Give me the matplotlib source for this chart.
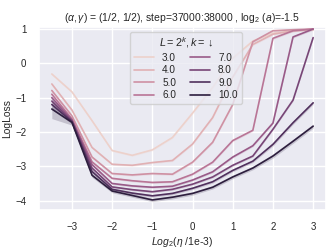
import numpy as np
import matplotlib
matplotlib.use("Agg")
import matplotlib.pyplot as plt
import seaborn as sns

# log2 of learning rate / 1e-3
log_lr = [-3.5, -3, -2.5, -2, -1.5, -1, -0.5, 0, 0.5, 1, 1.5, 2, 2.5, 3]
ks = [3.0, 4.0, 5.0, 6.0, 7.0, 8.0, 9.0, 10.0]

loss_k3 = [-0.31, -0.83, -1.67, -2.54, -2.68, -2.52, -2.16, -1.45, -0.70, 0.15, 0.65, 0.88, 0.95, 0.98]
loss_k4 = [-0.60, -1.36, -2.45, -2.94, -2.97, -2.89, -2.83, -2.35, -1.58, -0.40, 0.55, 0.85, 0.95, 0.99]
loss_k5 = [-0.79, -1.53, -2.73, -3.21, -3.25, -3.21, -3.23, -2.88, -2.30, -1.20, 0.63, 0.95, 0.98, 1.00]
loss_k6 = [-0.90, -1.62, -2.87, -3.35, -3.42, -3.47, -3.45, -3.23, -2.88, -2.25, -1.95, 0.73, 0.95, 1.00]
loss_k7 = [-1.00, -1.65, -2.95, -3.50, -3.57, -3.61, -3.58, -3.40, -3.16, -2.73, -2.40, -1.74, 0.77, 1.00]
loss_k8 = [-1.10, -1.68, -3.05, -3.60, -3.68, -3.74, -3.67, -3.52, -3.31, -2.97, -2.70, -1.92, -1.07, 0.75]
loss_k9 = [-1.20, -1.70, -3.15, -3.67, -3.78, -3.86, -3.79, -3.64, -3.45, -3.12, -2.85, -2.36, -1.73, -1.15]
loss_k10 = [-1.33, -1.72, -3.26, -3.72, -3.85, -3.98, -3.90, -3.79, -3.61, -3.31, -3.05, -2.70, -2.27, -1.83]

# half width of the shaded band
err_k9 = [0.15, 0.06, 0.05, 0.04, 0.04, 0.04, 0.04, 0.04, 0.04, 0.04, 0.04, 0.05, 0.05, 0.05]
err_k10 = [0.28, 0.08, 0.06, 0.05, 0.05, 0.05, 0.05, 0.05, 0.05, 0.05, 0.05, 0.06, 0.06, 0.06]
err_small = 0.03

losses = [loss_k3, loss_k4, loss_k5, loss_k6, loss_k7, loss_k8, loss_k9, loss_k10]

sns.set_theme(style="darkgrid")
plt.rcParams['font.family'] = ['Liberation Sans', 'DejaVu Sans']
plt.rcParams['mathtext.fontset'] = 'custom'
plt.rcParams['mathtext.rm'] = 'Liberation Sans'
plt.rcParams['mathtext.it'] = 'Liberation Sans:italic'
plt.rcParams['mathtext.bf'] = 'Liberation Sans:bold'

fig = plt.figure(figsize=(3.33, 2.49), dpi=100)
ax = fig.add_axes([0.117, 0.157, 0.862, 0.736])

cmap = sns.color_palette("ch:", as_cmap=True)
norm = matplotlib.colors.Normalize(min(ks), max(ks))

for k, y in zip(ks, losses):
    c = cmap(norm(k))
    if k == 9.0:
        e = np.array(err_k9)
    elif k == 10.0:
        e = np.array(err_k10)
    else:
        e = err_small
    y = np.array(y)
    ax.fill_between(log_lr, y - e, y + e, color=c, alpha=0.2, lw=0)
    ax.plot(log_lr, y, color=c, lw=1.2, label=str(k))

ax.set_xlim(-3.82, 3.32)
ax.set_ylim(-4.27, 1.07)
ax.set_xticks([-3, -2, -1, 0, 1, 2, 3])
ax.set_yticks([-4, -3, -2, -1, 0, 1])
ax.tick_params(labelsize=7, pad=3)
ax.set_xlabel(r"$Log_2(\eta$ /1e-3)", fontsize=7.5, labelpad=2)
ax.set_ylabel("LogLoss", fontsize=7.5, labelpad=2)
ax.set_title(r"$(\alpha, \gamma)$ = (1/2, 1/2), step=37000:38000 , $\log_2\,(a)$=-1.5",
             fontsize=7.5, pad=4)

leg = ax.legend(title=r"$L = 2^k, k = \downarrow$", ncol=2, fontsize=7.2,
                title_fontsize=7.8, loc="upper left", bbox_to_anchor=(0.3, 1.0),
                handlelength=2.0, columnspacing=1.4, labelspacing=0.25,
                borderpad=0.4)

fig.savefig("out.png", dpi=100)
